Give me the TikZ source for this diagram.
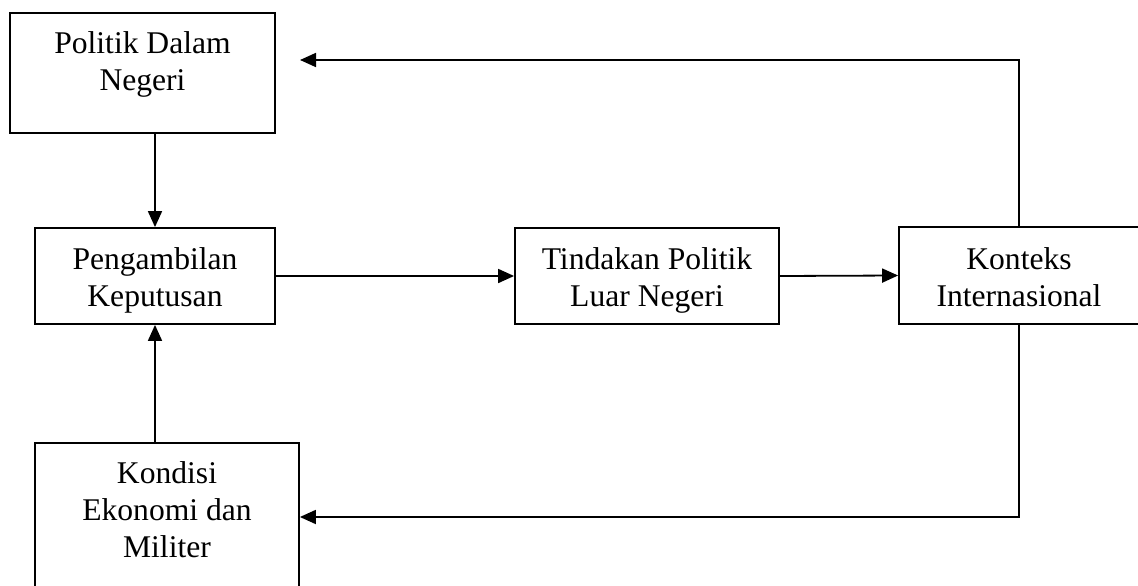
\documentclass[tikz,border=0pt]{standalone}
\usepackage{fontspec}
\setmainfont{Liberation Serif}
\usetikzlibrary{arrows.meta}
\begin{document}
\begin{tikzpicture}[x=1pt,y=-1pt,
  box/.style={draw, line width=1.8pt, inner sep=0pt, minimum width=#1},
  label/.style={anchor=base, align=center, inner sep=0pt,
    font=\fontsize{31.6pt}{37pt}\selectfont},
  link/.style={line width=1.8pt, -{Triangle[length=16pt,width=14pt]}}]
\useasboundingbox (0,0) rectangle (1138,586);
\clip (0,0) rectangle (1138,586);

% boxes
\node[box=265pt, minimum height=120pt] (pdn) at (142.5,72.7) {};
\node[box=240pt, minimum height=96pt]  (pk)  at (155,276) {};
\node[box=264pt, minimum height=96pt]  (tpl) at (647,276) {};
\node[box=240pt, minimum height=97pt]  (ki)  at (1019,275.5) {};
\node[box=264pt, minimum height=156pt] (kem) at (167,521) {};

% box texts (anchored on the baseline of the last line)
\node[label] (tpdn) at (142.5,91) {Politik Dalam\\Negeri};
\node[label] (tpk)  at (155,306) {Pengambilan\\Keputusan};
\node[label] (ttpl) at (647,306) {Tindakan Politik\\Luar Negeri};
\node[label] (tki)  at (1019,306) {Konteks\\Internasional};
\node[label] (tkem) at (167,557) {Kondisi\\Ekonomi dan\\Militer};

% feedback turning points
\coordinate (topturn) at (1019,60);
\coordinate (topend)  at (300,60);
\coordinate (botturn) at (1019,517);

% connectors
\draw[link] (pk.north |- pdn.south) -- (pk.north);
\draw[link] (pk.south |- kem.north) -- (pk.south);
\draw[link] (pk.east) -- (tpl.west);
\draw[link] (tpl.east) -- (ki.west);
\draw[link] (ki.north) -- (topturn) -- (topend);
\draw[link] (ki.south) -- (botturn) -- (kem.east |- botturn);
\end{tikzpicture}
\end{document}
